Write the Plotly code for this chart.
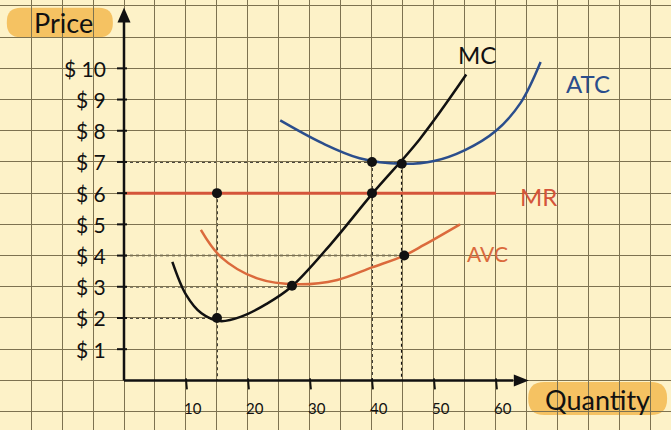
import plotly.graph_objects as go

# ---- data ----
price_ticks = [1, 2, 3, 4, 5, 6, 7, 8, 9, 10]
price_labels = ["$ 1", "$ 2", "$ 3", "$ 4", "$ 5", "$ 6", "$ 7", "$ 8", "$ 9", "$ 10"]
qty_ticks = [10, 20, 30, 40, 50, 60]
qty_labels = ["10", "20", "30", "40", "50", "60"]

mc_q = [7.8, 10, 12.5, 15.5, 19, 23, 27, 33.5, 40, 47.7, 55.2]
mc_p = [3.8, 2.75, 2.15, 1.9, 2.05, 2.45, 3.0, 4.4, 5.97, 7.73, 9.8]

atc_q = [25.2, 32, 38, 44.8, 50, 55, 60, 64, 67.2]
atc_p = [8.33, 7.6, 7.12, 6.94, 7.03, 7.38, 8.0, 8.9, 10.2]

avc_q = [12.4, 15.6, 21.5, 28, 34.4, 40, 45.2, 48.4, 54.2]
avc_p = [4.82, 3.96, 3.27, 3.08, 3.22, 3.62, 4.0, 4.34, 5.0]

mr_q = [0, 60]
mr_p = [6, 6]

dot_q = [15, 40, 44.8, 40, 45.2, 27.1, 15]
dot_p = [6, 7, 6.94, 6, 4.0, 3.03, 2]

# dotted guide lines: (q0, p0, q1, p1)
guides = [
    (0, 7, 44.8, 7), (0, 4, 45.2, 4), (0, 3, 27.1, 3), (0, 2, 15, 2),
    (15, 6, 15, 0), (40, 7, 40, 0), (44.8, 6.94, 44.8, 0),
]

# ---- geometry (px -> data) ----
W, H = 671, 430
XR = [-20.0, 88.23]
YR = [-1.59, 12.19]
pxx = (XR[1] - XR[0]) / W
pxy = (YR[1] - YR[0]) / H

BG = "#FDF2C8"
GRID = "#7d7250"
FONT = "Lato"

fig = go.Figure()

fig.add_trace(go.Scatter(x=mc_q, y=mc_p, mode="lines", line=dict(color="#111111", width=2.5, shape="spline", smoothing=1.0), hoverinfo="skip"))
fig.add_trace(go.Scatter(x=atc_q, y=atc_p, mode="lines", line=dict(color="#2B4E8C", width=2.5, shape="spline", smoothing=1.0), hoverinfo="skip"))
fig.add_trace(go.Scatter(x=avc_q, y=avc_p, mode="lines", line=dict(color="#DB6A3C", width=2.5, shape="spline", smoothing=1.0), hoverinfo="skip"))
fig.add_trace(go.Scatter(x=mr_q, y=mr_p, mode="lines", line=dict(color="#D4553A", width=3), hoverinfo="skip"))

shapes = []
for q0, p0, q1, p1 in guides:
    shapes.append(dict(type="line", x0=q0, y0=p0, x1=q1, y1=p1, line=dict(color="#111111", width=1.6, dash="dot"), layer="below"))

# axes
shapes.append(dict(type="line", x0=0, y0=0, x1=0, y1=11.5, line=dict(color="#111111", width=2.5)))
shapes.append(dict(type="line", x0=0, y0=0, x1=62.8, y1=0, line=dict(color="#111111", width=2.5)))
# arrow heads
ytip = 11.95
shapes.append(dict(type="path", path=f"M {-6.5*pxx} {ytip-15*pxy} L {6.5*pxx} {ytip-15*pxy} L 0 {ytip} Z", fillcolor="#111111", line=dict(width=0)))
xtip = 65.3
shapes.append(dict(type="path", path=f"M {xtip-15*pxx} {6*pxy} L {xtip-15*pxx} {-6*pxy} L {xtip} 0 Z", fillcolor="#111111", line=dict(width=0)))
# ticks
for p in price_ticks:
    shapes.append(dict(type="line", x0=-7*pxx, y0=p, x1=3*pxx, y1=p, line=dict(color="#111111", width=2)))
for q in qty_ticks:
    shapes.append(dict(type="line", x0=q, y0=2*pxy, x1=q + 1*pxx, y1=-9*pxy, line=dict(color="#111111", width=1.8)))

# highlight boxes (rounded)
def rrect(x0, y0, x1, y1, r_px):
    rx, ry = r_px * pxx, r_px * pxy
    return (f"M {x0+rx} {y0} L {x1-rx} {y0} Q {x1} {y0} {x1} {y0+ry} "
            f"L {x1} {y1-ry} Q {x1} {y1} {x1-rx} {y1} L {x0+rx} {y1} "
            f"Q {x0} {y1} {x0} {y1-ry} L {x0} {y0+ry} Q {x0} {y0} {x0+rx} {y0} Z")

shapes.append(dict(type="path", path=rrect(-18.9, 11.0, -1.8, 11.94, 14), fillcolor="#F5C262", line=dict(width=0), layer="below"))
shapes.append(dict(type="path", path=rrect(65.2, -1.11, 87.6, -0.05, 16), fillcolor="#F5C262", line=dict(width=0), layer="below"))

annotations = []
for p, lab in zip(price_ticks, price_labels):
    annotations.append(dict(x=-2.6, y=p, text=lab, showarrow=False, xanchor="right", yanchor="middle",
                            font=dict(family=FONT, size=21, color="#111111")))
for q, lab in zip(qty_ticks, qty_labels):
    annotations.append(dict(x=q + 1.2, y=-0.88, text=lab, showarrow=False, xanchor="center", yanchor="middle",
                            font=dict(family=FONT, size=15, color="#111111")))

annotations += [
    dict(x=-9.8, y=11.47, text="Price", showarrow=False, font=dict(family=FONT, size=27, color="#111111")),
    dict(x=76.4, y=-0.6, text="Quantity", showarrow=False, font=dict(family=FONT, size=27, color="#111111")),
    dict(x=56.9, y=10.43, text="MC", showarrow=False, font=dict(family=FONT, size=24, color="#111111")),
    dict(x=74.9, y=9.53, text="ATC", showarrow=False, font=dict(family=FONT, size=24, color="#2B4E8C")),
    dict(x=66.8, y=5.88, text="MR", showarrow=False, font=dict(family=FONT, size=24, color="#D4553A")),
    dict(x=58.7, y=4.08, text="AVC", showarrow=False, font=dict(family=FONT, size=21, color="#DB6A3C")),
]

fig.add_trace(go.Scatter(x=dot_q, y=dot_p, mode="markers", marker=dict(color="#111111", size=10), hoverinfo="skip"))

fig.update_layout(
    width=W, height=H,
    margin=dict(l=0, r=0, t=0, b=0),
    paper_bgcolor=BG, plot_bgcolor=BG,
    showlegend=False,
    shapes=shapes, annotations=annotations,
    xaxis=dict(range=XR, showgrid=True, gridcolor=GRID, gridwidth=1, dtick=5, tick0=0,
               showticklabels=False, zeroline=False, showline=False, ticks="", fixedrange=True),
    yaxis=dict(range=YR, showgrid=True, gridcolor=GRID, gridwidth=1, dtick=1, tick0=0,
               showticklabels=False, zeroline=False, showline=False, ticks="", fixedrange=True),
)

fig.write_html("out.html")
